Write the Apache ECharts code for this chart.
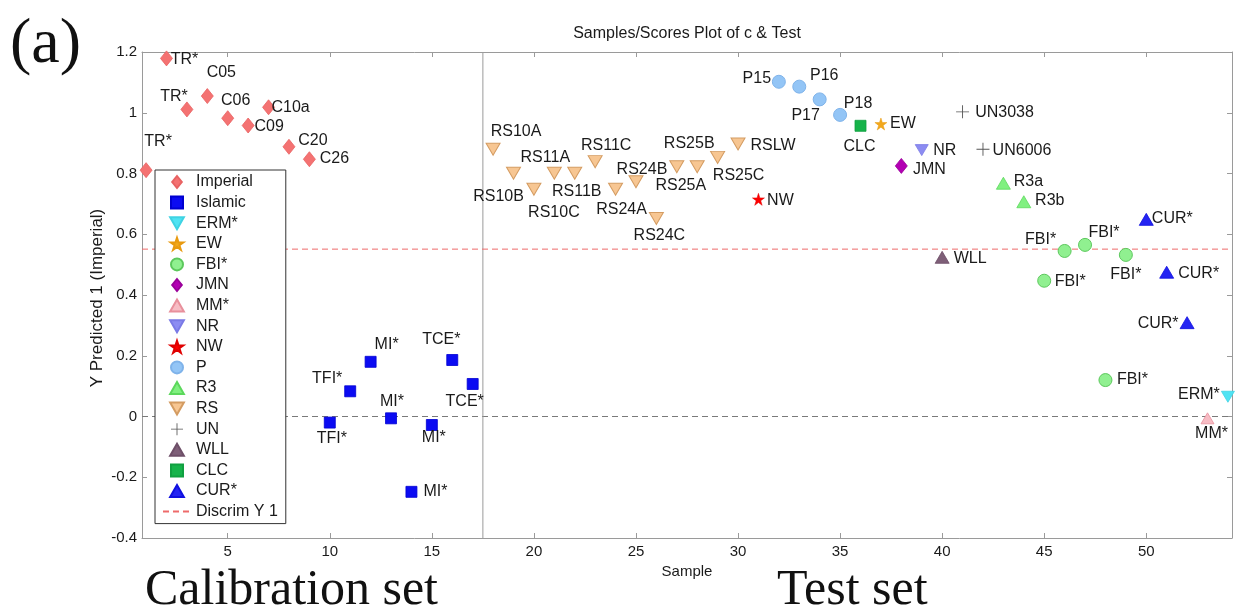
<!DOCTYPE html>
<html>
<head>
<meta charset="utf-8">
<script src="https://cdn.jsdelivr.net/npm/echarts@6/dist/echarts.min.js"></script>
<style>
html,body{margin:0;padding:0;background:#fff;}
#chart{width:1253px;height:612px;}
</style>
</head>
<body>
<div id="chart"></div>
<script>
// ---------------- DATA ----------------
const xTicks = [5, 10, 15, 20, 25, 30, 35, 40, 45, 50];
const xLimits = [0.8, 54.2];
const yLimits = [-0.4, 1.2];
const discrimValue = 0.551;
const setDivider = 17.5;

const imperialX = [1, 2, 3, 4, 5, 6, 7, 8, 9];
const imperialY = [0.811, 1.179, 1.011, 1.055, 0.982, 0.958, 1.018, 0.888, 0.847];
const imperialNames = ['TR*', 'TR*', 'TR*', 'C05', 'C06', 'C09', 'C10a', 'C20', 'C26'];

const islamicX = [10, 11, 12, 13, 14, 15, 16, 17];
const islamicY = [-0.020, 0.083, 0.180, -0.006, -0.248, -0.028, 0.186, 0.107];
const islamicNames = ['TFI*', 'TFI*', 'MI*', 'MI*', 'MI*', 'MI*', 'TCE*', 'TCE*'];

const rsX = [18, 19, 20, 21, 22, 23, 24, 25, 26, 27, 28, 29, 30];
const rsY = [0.880, 0.801, 0.748, 0.801, 0.801, 0.839, 0.748, 0.773, 0.652, 0.822, 0.822, 0.853, 0.897];
const rsNames = ['RS10A', 'RS10B', 'RS10C', 'RS11A', 'RS11B', 'RS11C', 'RS24A', 'RS24B', 'RS24C', 'RS25A', 'RS25B', 'RS25C', 'RSLW'];

const pX = [32, 33, 34, 35];
const pY = [1.102, 1.086, 1.044, 0.993];
const pNames = ['P15', 'P16', 'P17', 'P18'];

const nwX = [31];  const nwY = [0.715];  const nwNames = ['NW'];
const clcX = [36]; const clcY = [0.957]; const clcNames = ['CLC'];
const ewX = [37];  const ewY = [0.963];  const ewNames = ['EW'];
const jmnX = [38]; const jmnY = [0.825]; const jmnNames = ['JMN'];
const nrX = [39];  const nrY = [0.877];  const nrNames = ['NR'];
const wllX = [40]; const wllY = [0.524]; const wllNames = ['WLL'];

const unX = [41, 42];
const unY = [1.003, 0.880];
const unNames = ['UN3038', 'UN6006'];

const r3X = [43, 44];
const r3Y = [0.768, 0.707];
const r3Names = ['R3a', 'R3b'];

const fbiX = [45, 46, 47, 48, 49];
const fbiY = [0.447, 0.545, 0.565, 0.120, 0.532];
const fbiNames = ['FBI*', 'FBI*', 'FBI*', 'FBI*', 'FBI*'];

const curX = [50, 51, 52];
const curY = [0.649, 0.475, 0.309];
const curNames = ['CUR*', 'CUR*', 'CUR*'];

const mmX = [53];  const mmY = [-0.006]; const mmNames = ['MM*'];
const ermX = [54]; const ermY = [0.065];  const ermNames = ['ERM*'];

const legendOrder = ['Imperial', 'Islamic', 'ERM*', 'EW', 'FBI*', 'JMN', 'MM*', 'NR', 'NW', 'P', 'R3', 'RS', 'UN', 'WLL', 'CLC', 'CUR*', 'Discrim Y 1'];

// ---------------- STYLE (label offsets in px, relative to marker centre) ----------------
const labelOffsets = {
  Imperial: [[12,-29],[18,1],[-13,-13],[14,-23],[8,-18],[21,1],[22,0],[24,-6],[25,-1]],
  Islamic: [[2,16],[-23,-13],[16,-17],[1,-17],[24,0],[2,13],[-11,-20],[-8,18]],
  RS: [[23,-18],[-15,23],[20,23],[-9,-16],[2,18],[11,-16],[6,20],[6,-12],[3,17],[4,19],[-8,-23],[21,18],[35,2]],
  P: [[-22,-3],[25,-11],[-14,16],[18,-11]],
  NW: [[22,1]], CLC: [[-1,21]], EW: [[22,0]], JMN: [[28,4]], NR: [[23,0]], WLL: [[28,1]],
  UN: [[42,1],[39,1]],
  R3: [[25,-2],[26,-1]],
  'FBI*': [[26,1],[-24,-11],[19,-12],[27,0],[0,20]],
  'CUR*': [[26,-1],[32,1],[-29,1]],
  'MM*': [[4,15]], 'ERM*': [[-29,-2]]
};

const SANS = 'Liberation Sans, Arial, sans-serif';
const SERIF = 'Liberation Serif, Times New Roman, serif';
const STAR = 'path://M0,-1L0.2245,-0.309L0.951,-0.309L0.363,0.118L0.588,0.809L0,0.382L-0.588,0.809L-0.363,0.118L-0.951,-0.309L-0.2245,-0.309Z';
const TRI_DOWN = 'path://M0,0L2,0L1,1.75Z';
const TRI_UP = 'path://M1,0L2,1.75L0,1.75Z';
const DIAMOND = 'path://M0,-1L0.8,0L0,1L-0.8,0Z';
const SQUARE = 'path://M0,0H1V1H0Z';
const PLUS = 'path://M-0.07,-1H0.07V-0.07H1V0.07H0.07V1H-0.07V0.07H-1V-0.07H-0.07Z';
const DISCRIM_COLOR = '#ee6a6a';

function scat(name, xs, ys, names, sty) {
  const offs = labelOffsets[name];
  return {
    type: 'scatter', name: name,
    symbol: sty.symbol, symbolSize: sty.size, symbolKeepAspect: false,
    itemStyle: { color: sty.fill, borderColor: sty.border || sty.fill, borderWidth: sty.bw == null ? 0.8 : sty.bw, opacity: 1 },
    label: { show: true, position: 'inside', formatter: '{b}', color: '#1a1a1a', fontSize: 16, fontFamily: SANS },
    emphasis: { disabled: true },
    clip: false,
    z: 3,
    data: xs.map((x, i) => ({ name: names[i], value: [x, ys[i]], label: { offset: offs[i] } }))
  };
}

const series = [
  { type: 'line', name: 'zeroLine', data: [[xLimits[0], 0], [xLimits[1], 0]], symbol: 'none', silent: true, z: 1,
    lineStyle: { color: '#7a7a7a', width: 1, type: [6, 4] } },
  { type: 'line', name: 'divider', data: [[setDivider, yLimits[0]], [setDivider, yLimits[1]]], symbol: 'none', silent: true, z: 1,
    lineStyle: { color: '#9a9a9a', width: 1 } },
  { type: 'line', name: 'Discrim Y 1', data: [[xLimits[0], discrimValue], [xLimits[1], discrimValue]],
    symbol: 'circle', showSymbol: false, silent: true, z: 1,
    itemStyle: { color: DISCRIM_COLOR, opacity: 0 },
    lineStyle: { color: DISCRIM_COLOR, width: 1, type: [6, 4] } },
  scat('Imperial', imperialX, imperialY, imperialNames, { symbol: DIAMOND, size: [12, 15], fill: '#f47272', border: '#e86262' }),
  scat('Islamic', islamicX, islamicY, islamicNames, { symbol: SQUARE, size: [11, 11], fill: '#0b0bf2', border: '#0000d0' }),
  scat('ERM*', ermX, ermY, ermNames, { symbol: TRI_DOWN, size: [13, 11], fill: '#4fe3f3', border: '#3fd3e3' }),
  scat('EW', ewX, ewY, ewNames, { symbol: STAR, size: [12, 12], fill: '#f2a81d', border: '#e89a10', bw: 0.5 }),
  scat('FBI*', fbiX, fbiY, fbiNames, { symbol: 'circle', size: 13, fill: '#90f090', border: '#5cc85c', bw: 1 }),
  scat('JMN', jmnX, jmnY, jmnNames, { symbol: DIAMOND, size: [12, 15], fill: '#b300b3', border: '#9a009a' }),
  scat('MM*', mmX, mmY, mmNames, { symbol: TRI_UP, size: [13, 11], fill: '#f7bcc4', border: '#e8909c' }),
  scat('NR', nrX, nrY, nrNames, { symbol: TRI_DOWN, size: [13, 11], fill: '#8c8cf2', border: '#7a7ae6' }),
  scat('NW', nwX, nwY, nwNames, { symbol: STAR, size: [12, 12], fill: '#ff0000', border: '#e00000', bw: 0.5 }),
  scat('P', pX, pY, pNames, { symbol: 'circle', size: 13, fill: '#93c5f6', border: '#7fb3ea', bw: 1 }),
  scat('R3', r3X, r3Y, r3Names, { symbol: TRI_UP, size: [14, 12], fill: '#80f080', border: '#5cd85c' }),
  scat('RS', rsX, rsY, rsNames, { symbol: TRI_DOWN, size: [14, 12], fill: '#f7c692', border: '#d49c62', bw: 1 }),
  scat('UN', unX, unY, unNames, { symbol: PLUS, size: [13, 13], fill: '#555555', bw: 0 }),
  scat('WLL', wllX, wllY, wllNames, { symbol: TRI_UP, size: [14, 12], fill: '#7e5f78', border: '#6e4f68' }),
  scat('CLC', clcX, clcY, clcNames, { symbol: SQUARE, size: [11, 11], fill: '#16b34a', border: '#10a040' }),
  scat('CUR*', curX, curY, curNames, { symbol: TRI_UP, size: [14, 12], fill: '#2424f2', border: '#1010e0' })
];

const axisGray = '#9a9a9a';
const option = {
  animation: false,
  backgroundColor: '#ffffff',
  grid: { left: 142, right: 21, top: 52, bottom: 74 },
  xAxis: [
    { type: 'value', min: xLimits[0], max: xLimits[1], position: 'bottom',
      name: 'Sample', nameLocation: 'middle', nameGap: 21,
      nameTextStyle: { fontSize: 15, color: '#1a1a1a', fontFamily: SANS },
      axisLine: { show: true, onZero: false, lineStyle: { color: axisGray } },
      axisTick: { show: true, inside: true, length: 5, customValues: xTicks, lineStyle: { color: axisGray } },
      axisLabel: { show: true, customValues: xTicks, margin: 6, fontSize: 15, color: '#1a1a1a', fontFamily: SANS },
      splitLine: { show: false } },
    { type: 'value', min: xLimits[0], max: xLimits[1], position: 'top',
      axisLine: { show: true, onZero: false, lineStyle: { color: axisGray } },
      axisTick: { show: true, inside: true, length: 5, customValues: xTicks, lineStyle: { color: axisGray } },
      axisLabel: { show: false }, splitLine: { show: false } }
  ],
  yAxis: [
    { type: 'value', min: yLimits[0], max: yLimits[1], interval: 0.2, position: 'left',
      axisLine: { show: true, onZero: false, lineStyle: { color: axisGray } },
      axisTick: { show: true, inside: true, length: 5, lineStyle: { color: axisGray } },
      axisLabel: { show: true, margin: 5, fontSize: 15, color: '#1a1a1a', fontFamily: SANS },
      splitLine: { show: false } },
    { type: 'value', min: yLimits[0], max: yLimits[1], interval: 0.2, position: 'right',
      axisLine: { show: true, onZero: false, lineStyle: { color: axisGray } },
      axisTick: { show: true, inside: true, length: 5, lineStyle: { color: axisGray } },
      axisLabel: { show: false }, splitLine: { show: false } }
  ],
  legend: {
    data: legendOrder,
    orient: 'vertical', left: 155, top: 170,
    backgroundColor: '#ffffff', borderColor: '#333333', borderWidth: 1, borderRadius: 0,
    padding: [4, 8, 4, 7], itemGap: 4.6, itemWidth: 28, itemHeight: 12,
    selectedMode: false, symbolKeepAspect: true,
    textStyle: { fontSize: 16, color: '#1a1a1a', fontFamily: SANS, lineHeight: 16 }
  },
  graphic: [
    { type: 'text', left: 10, top: 13, style: { text: '(a)', font: '64px ' + SERIF, fill: '#111' } },
    { type: 'text', x: 687, y: 34, style: { text: 'Samples/Scores Plot of c & Test', align: 'center', verticalAlign: 'middle', font: '16px ' + SANS, fill: '#1a1a1a' } },
    { type: 'text', x: 97, y: 298, rotation: Math.PI / 2, style: { text: 'Y Predicted 1 (Imperial)', align: 'center', verticalAlign: 'middle', font: '17px ' + SANS, fill: '#1a1a1a' } },
    { type: 'text', left: 145, top: 566, style: { text: 'Calibration set', font: '50px ' + SERIF, fill: '#111' } },
    { type: 'text', left: 777, top: 566, style: { text: 'Test set', font: '50px ' + SERIF, fill: '#111' } }
  ],
  series: series
};

const chart = echarts.init(document.getElementById('chart'), null, { renderer: 'canvas' });
chart.setOption(option);
</script>
</body>
</html>
